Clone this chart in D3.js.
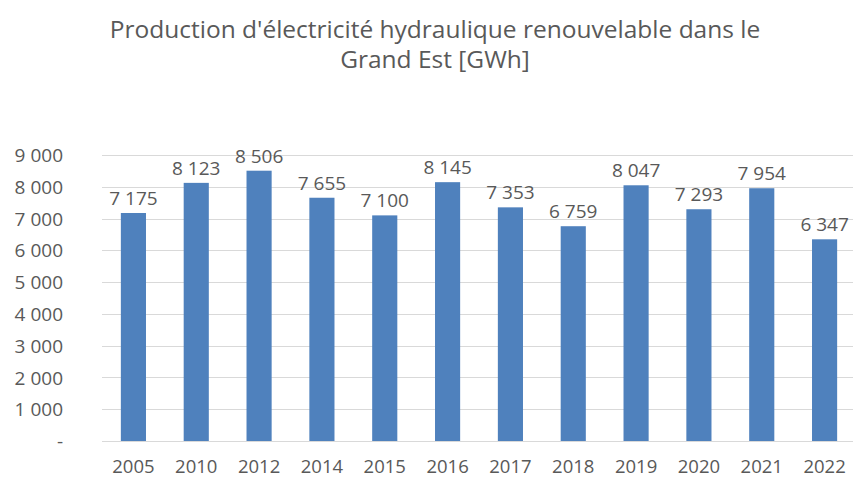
<!DOCTYPE html>
<html><head><meta charset="utf-8">
<script src="https://cdn.jsdelivr.net/npm/d3@7"></script>
<style>body{margin:0;background:#fff}svg{display:block}text{font-family:"Open Sans",sans-serif;fill:#595959}</style>
</head><body><svg id="c" width="853" height="479"></svg>
<script>
const years = ["2005","2010","2012","2014","2015","2016","2017","2018","2019","2020","2021","2022"];
const values = [7175,8123,8506,7655,7100,8145,7353,6759,8047,7293,7954,6347];
const yTicks = [0,1000,2000,3000,4000,5000,6000,7000,8000,9000];
const titleLines = ["Production d'électricité hydraulique renouvelable dans le","Grand Est [GWh]"];

const svg = d3.select("#c");
const fmt = v => v === 0 ? "-" : d3.format(",")(v).replace(/,/g, " ");
const x = d3.scaleBand().domain(years).range([102, 856]).paddingInner(0.6).paddingOuter(0.3);
const y = d3.scaleLinear().domain([0, 9000]).range([441, 155]);

svg.append("g").selectAll("line").data(yTicks).join("line")
  .attr("x1", 102).attr("x2", 853).attr("y1", d => Math.round(y(d)) + 0.5).attr("y2", d => Math.round(y(d)) + 0.5)
  .attr("stroke", "#d9d9d9").attr("stroke-width", 1);

const yAxis = d3.axisLeft(y).tickValues(yTicks).tickFormat(fmt).tickSize(0).tickPadding(0);
const ga = svg.append("g").attr("transform", "translate(63,0)").call(yAxis);
ga.select(".domain").remove();
ga.selectAll("text").attr("font-size", 19).attr("font-family", "Open Sans").attr("fill", "#595959").attr("dy", "0.35em");

const xAxis = d3.axisBottom(x).tickSize(0).tickPadding(0);
const gx = svg.append("g").attr("transform", "translate(0,460)").call(xAxis);
gx.select(".domain").remove();
gx.selectAll("text").attr("font-size", 18.5).attr("font-family", "Open Sans").attr("fill", "#595959").attr("dy", "0.71em");

svg.append("g").selectAll("rect").data(values).join("rect")
  .attr("x", (d, i) => x(years[i])).attr("width", x.bandwidth())
  .attr("y", d => y(d)).attr("height", d => y(0) - y(d)).attr("fill", "#4f81bd");

svg.append("g").selectAll("text").data(values).join("text")
  .attr("x", (d, i) => x(years[i]) + x.bandwidth() / 2).attr("y", d => y(d) - 8)
  .attr("text-anchor", "middle").attr("font-size", 19).text(fmt);

svg.append("g").selectAll("text").data(titleLines).join("text")
  .attr("x", 435).attr("y", (d, i) => 37.5 + i * 30).attr("text-anchor", "middle")
  .attr("font-size", 24.5).text(d => d);
</script></body></html>
